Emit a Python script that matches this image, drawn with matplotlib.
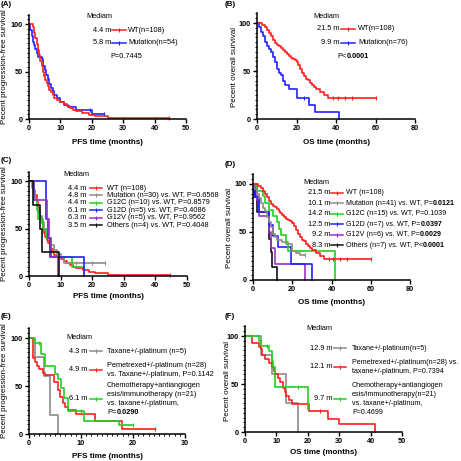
import numpy as np
import matplotlib
matplotlib.use("Agg")
import matplotlib.pyplot as plt
from matplotlib.lines import Line2D
from matplotlib.ticker import MultipleLocator

plt.rcParams["font.family"] = ["Liberation Sans", "DejaVu Sans"]

W = H = 461
RED = "#ff1f1f"
BLUE = "#2323ff"
GREEN = "#1fd11f"
GRAY = "#8c8c8c"
PURPLE = "#9b32c9"
BLACK = "#111111"

# ---------- data (months, percent surviving) ----------
# WT, progression-free survival (shared by A and C)
wt_pfs_t = [0, 1.2, 1.6, 2.0, 2.4, 2.8, 3.2, 3.6, 4.0, 4.4, 4.8, 5.2, 5.6, 6.0, 6.5,
            7.0, 7.5, 8.0, 9.0, 10.0, 11.0, 12.0, 13.0, 14.0, 15.0, 17.0, 19.0, 21.0, 25.0, 44.5]
wt_pfs_s = [100, 97, 91, 85, 79, 73, 67, 61, 56, 50, 45, 41, 38, 35, 31,
            28, 25, 22, 20, 18, 16, 14, 12, 10, 8, 6, 4, 3, 1, 1]
wt_pfs_cens = [44.5]

mut_pfs_t = [0, 0.4, 0.8, 1.2, 1.6, 2.0, 2.5, 3.0, 4.0, 4.6, 5.0, 5.5, 6.0, 6.5, 7.0,
             7.5, 8.0, 9.0, 10.0, 11.0, 12.5, 15.0, 20.0, 24.0]
mut_pfs_s = [100, 94, 87, 81, 78, 74, 70, 65, 63, 56, 52, 46, 42, 37, 33,
             29, 25, 22, 18, 15, 13, 10, 5, 5]
mut_pfs_cens = [19.5, 24.0]

# WT, overall survival (shared by B and D)
wt_os_t = [0, 2.5, 4, 5, 6, 7, 8, 9, 10, 11, 12, 13, 14, 15, 16, 17, 18, 19, 20, 21,
           22, 23, 24, 25, 26, 27, 28, 29, 30, 32, 34, 36, 60]
wt_os_s = [100, 98, 96, 93, 90, 86, 82, 79, 77, 76, 74, 72, 70, 68, 66, 64, 62, 61, 59, 56,
           52, 48, 45, 42, 41, 38, 35, 33, 31, 28, 25, 22, 22]
wt_os_cens = [38.5, 41.0, 44.5, 48.0, 60.0]

mut_os_t = [0, 1, 2, 3, 4, 5, 6, 7, 8, 9, 10, 11, 12, 13, 14, 16, 20, 26.5, 29.5, 41.5]
mut_os_s = [100, 96, 91, 86, 80, 76, 73, 70, 65, 59, 52, 48, 46, 40, 35, 31, 22, 15, 7, 0]
mut_os_cens = [24.0]

# C: PFS by subtype
c_mut_t = [0, 1, 1.5, 2, 2.5, 3, 3.5, 4, 4.8, 5.5, 6, 7, 8, 9, 10, 11, 24]
c_mut_s = [100, 93, 87, 80, 73, 70, 63, 57, 50, 43, 40, 33, 27, 23, 20, 14, 14]
c_mut_cens = [15.0, 20.0, 24.0]
c_g12c_t = [0, 1.5, 2, 2.5, 3, 4.4, 5.5, 6.5, 7, 13.5, 17.3]
c_g12c_s = [100, 90, 80, 70, 60, 50, 40, 30, 20, 10, 0]
c_g12d_t = [0, 5.4, 6.1, 6.8, 17.4]
c_g12d_s = [100, 60, 40, 20, 0]
c_g12v_t = [0, 1.5, 5.7, 6.3, 7.0, 9.2]
c_g12v_s = [100, 80, 60, 40, 20, 0]
c_oth_t = [0, 1.2, 3.5, 4.2, 9.6]
c_oth_s = [100, 75, 50, 25, 0]

# D: OS by subtype
d_mut_t = [0, 1, 2, 3, 4, 5, 6, 7, 8, 9, 10.1, 11, 12, 15, 17, 20, 22, 24, 26.5]
d_mut_s = [100, 95, 90, 85, 80, 75, 72, 66, 60, 55, 48, 45, 42, 40, 37, 30, 28, 26, 26]
d_mut_cens = [26.5]
d_g12c_t = [0, 2, 5, 6, 8, 10, 12, 13, 14.2, 17, 18, 41.8]
d_g12c_s = [100, 93, 87, 80, 73, 67, 60, 53, 47, 40, 30, 0]
d_g12d_t = [0, 0.5, 3, 8, 10, 12.5, 19.5, 30]
d_g12d_s = [100, 86, 71, 57, 46, 34, 17, 0]
d_g12v_t = [0, 2, 3, 8, 9.2, 11, 26.5]
d_g12v_s = [100, 83, 67, 50, 33, 17, 0]
d_oth_t = [0, 1, 2, 8.0, 8.3, 9.0, 9.7, 12.2]
d_oth_s = [100, 86, 71, 57, 43, 29, 14, 0]

# E: PFS by regimen
e_tax_t = [0, 1.2, 2.8, 4.1, 5.6]
e_tax_s = [100, 80, 60, 20, 0]
e_pem_t = [0, 0.8, 1.2, 1.6, 2.0, 2.6, 3.0, 4.9, 5.6, 6.0, 6.5, 7.0, 7.5, 9.0, 12.7, 17.8, 24.2]
e_pem_s = [100, 79, 75, 71, 68, 64, 61, 54, 46, 39, 32, 28, 25, 21, 14, 5, 5]
e_pem_cens = [24.2]
e_chemo_t = [0, 1.0, 2.4, 3.1, 5.0, 5.5, 6.1, 6.8, 7.5, 10.6, 17.4, 20.0]
e_chemo_s = [100, 95, 83, 71, 62, 57, 48, 38, 24, 14, 9.5, 9.5]
e_chemo_cens = [2.0, 10.0, 20.0]

# F: OS by regimen
f_tax_t = [0, 5, 8.5, 12.9, 17]
f_tax_s = [100, 80, 60, 30, 0]
f_pem_t = [0, 2.2, 4.3, 5.0, 5.5, 6.5, 7.5, 8.6, 9.2, 9.7, 10.5, 11.0, 12.1, 12.6, 13.2,
           14.0, 15.0, 20.3, 26.5, 29.8, 41.5]
f_pem_s = [100, 93, 89, 86, 80, 76, 72, 68, 64, 60, 56, 52, 46, 42, 38,
           33, 29, 22, 14, 8, 0]
f_pem_cens = [24.0]
f_chemo_t = [0, 4.5, 5.0, 7.5, 8.5, 9.0, 9.5, 9.7, 20.0]
f_chemo_s = [100, 95, 90, 84, 74, 68, 58, 47, 23.5]
f_chemo_cens = [2.0, 7.0, 17.0]

# legend texts
ab_medians_a = ["4.4 m", "5.8 m"]
ab_medians_b = ["21.5 m", "9.9 m"]
a_labels = ["WT(n=108)", "Mutation(n=54)"]
b_labels = ["WT(n=108)", "Mutation(n=76)"]
c_medians = ["4.4 m", "4.8 m", "4.4 m", "6.1 m", "6.3 m", "3.5 m"]
c_labels = ["WT (n=108)", "Mutation (n=30) vs. WT, P=0.6568", "G12C (n=10) vs. WT, P=0.8579",
            "G12D (n=5) vs. WT, P=0.4086", "G12V (n=5) vs. WT, P=0.9562",
            "Others (n=4) vs. WT, P=0.4048"]
d_medians = ["21.5 m", "10.1 m", "14.2 m", "12.5 m", "9.2 m", "8.3 m"]
d_labels = ["WT (n=108)", "Mutation (n=41) vs. WT, P=", "G12C (n=15) vs. WT, P=0.1039",
            "G12D (n=7) vs. WT, P=", "G12V (n=6) vs. WT, P=", "Others (n=7) vs. WT, P<"]
d_bold = ["", "0.0121", "", "0.0397", "0.0029", "0.0001"]
e_medians = ["4.3 m", "4.9 m", "6.1 m"]
e_labels = [["Taxane+/-platinum (n=5)"],
            ["Pemetrexed+/-platinum (n=28)", "vs. Taxane+/-platinum, P=0.1142"],
            ["Chemotherapy+antiangiogen", "esis/immunotherapy (n=21)", "vs. taxane+/-platinum,", "P="]]
f_medians = ["12.9 m", "12.1 m", "9.7 m"]
f_labels = [["Taxane+/-platinum(n=5)"],
            ["Pemetrexed+/-platinum(n=28) vs.", "taxane+/-platinum, P=0.7394"],
            ["Chemotherapy+antiangiogen", "esis/immunotherapy(n=21)", "vs. taxane+/-platinum,", "P=0.4699"]]

LEG = 5.3
fig = plt.figure(figsize=(4.61, 4.61), dpi=100)
renderer = fig.canvas.get_renderer()


def fx(x):
    return x / W


def fy(y):
    return 1 - y / H


def put(x, y, s, bold=False, size=LEG, ha="left", rot=0):
    return fig.text(fx(x), fy(y), s, fontsize=size, ha=ha, va="center", rotation=rot,
                    fontweight="bold" if bold else "normal")


def put_mixed(x, y, plain, strong, size=LEG):
    t = put(x, y, plain, size=size)
    if strong:
        bb = t.get_window_extent(renderer=renderer)
        put(bb.x1, y, strong, bold=True, size=size)


def sample(x0, x1, y, color):
    fig.add_artist(Line2D([fx(x0), fx(x1)], [fy(y), fy(y)], color=color, lw=1.1))
    fig.add_artist(Line2D([fx((x0 + x1) / 2)], [fy(y)], marker="|", ms=2.5, mew=0.8, color=color))


def panel(x0, x1, y0, ppp, xmax, xstep, xminor=None):
    top = y0 - 110 * ppp
    ax = fig.add_axes([fx(x0), fy(y0), (x1 - x0) / W, (y0 - top) / H])
    ax.set_xlim(0, xmax)
    ax.set_ylim(0, 110)
    for side in ("top", "right"):
        ax.spines[side].set_visible(False)
    for side in ("left", "bottom"):
        ax.spines[side].set_linewidth(1.1)
    ax.set_yticks([0, 50, 100])
    ax.yaxis.set_minor_locator(MultipleLocator(5))
    ax.xaxis.set_major_locator(MultipleLocator(xstep))
    if xminor:
        ax.xaxis.set_minor_locator(MultipleLocator(xminor))
    ax.tick_params(which="major", length=3, width=1.0, labelsize=5.2, pad=1.5)
    ax.tick_params(which="minor", length=1.6, width=0.7)
    for lab in ax.get_xticklabels() + ax.get_yticklabels():
        lab.set_fontweight("bold")
    return ax


def km(ax, t, s, color, cens=None):
    ax.step(t, s, where="post", color=color, lw=1.2, clip_on=False)
    if cens:
        idx = np.searchsorted(t, cens, side="right") - 1
        ax.plot(cens, np.array(s)[idx], ls="none", marker="|", ms=2.5, mew=0.8,
                color=color, clip_on=False)


# ---------- (A) ----------
ax = panel(29, 186, 119, 0.95, 50, 10)
km(ax, mut_pfs_t, mut_pfs_s, BLUE, mut_pfs_cens)
km(ax, wt_pfs_t, wt_pfs_s, RED, wt_pfs_cens)
put(86, 17, "Mediam")
for i, (m, lab, col) in enumerate(zip(ab_medians_a, a_labels, [RED, BLUE])):
    y = 30 + 13 * i
    put(111, y, m, ha="right")
    sample(112, 126, y, col)
    put(128, y, lab)
put(110, 57, "P=0.7445")

# ---------- (B) ----------
ax = panel(257, 415, 119, 0.96, 80, 20)
km(ax, mut_os_t, mut_os_s, BLUE, mut_os_cens)
km(ax, wt_os_t, wt_os_s, RED, wt_os_cens)
put(313, 16, "Mediam")
for i, (m, lab, col) in enumerate(zip(ab_medians_b, b_labels, [RED, BLUE])):
    y = 29 + 14 * i
    put(339, y, m, ha="right")
    sample(341, 355, y, col)
    put(358, y, lab)
put_mixed(337, 56, "P<", "0.0001")

# ---------- (C) ----------
ax = panel(29, 187, 276, 0.95, 50, 10)
km(ax, wt_pfs_t, wt_pfs_s, RED, wt_pfs_cens)
km(ax, c_mut_t, c_mut_s, GRAY, c_mut_cens)
km(ax, c_g12c_t, c_g12c_s, GREEN)
km(ax, c_g12d_t, c_g12d_s, BLUE)
km(ax, c_g12v_t, c_g12v_s, PURPLE)
km(ax, c_oth_t, c_oth_s, BLACK)
put(63, 174, "Mediam")
c_cols = [RED, GRAY, GREEN, BLUE, PURPLE, BLACK]
for i, (m, lab, col) in enumerate(zip(c_medians, c_labels, c_cols)):
    y = 188 + 7.4 * i
    put(86, y, m, ha="right")
    sample(90, 102, y, col)
    put(107, y, lab)

# ---------- (D) ----------
ax = panel(253, 410, 280, 0.96, 80, 20)
km(ax, d_oth_t, d_oth_s, BLACK)
km(ax, d_g12v_t, d_g12v_s, PURPLE)
km(ax, d_g12d_t, d_g12d_s, BLUE)
km(ax, d_g12c_t, d_g12c_s, GREEN)
km(ax, d_mut_t, d_mut_s, GRAY, d_mut_cens)
km(ax, wt_os_t, wt_os_s, RED, wt_os_cens)
put(303, 182, "Mediam")
for i, (m, lab, bold, col) in enumerate(zip(d_medians, d_labels, d_bold, c_cols)):
    y = 193 + 10.4 * i
    put(330, y, m, ha="right")
    sample(331, 343, y, col)
    put_mixed(346, y, lab, bold, size=5.15)

# ---------- (E) ----------
ax = panel(29, 185, 434, 0.96, 30, 10, 1)
km(ax, e_tax_t, e_tax_s, GRAY)
km(ax, e_pem_t, e_pem_s, RED, e_pem_cens)
km(ax, e_chemo_t, e_chemo_s, GREEN, e_chemo_cens)
put(66, 337, "Mediam")
e_rows = [351, 369.5, 399]
for m, lines, col, y in zip(e_medians, e_labels, [GRAY, RED, GREEN], e_rows):
    put(87, y, m, ha="right")
    sample(90, 102, y, col)
    y_first = y - 9 * (len(lines) - 1) / 2
    for j, txt in enumerate(lines):
        if txt == "P=":
            put_mixed(107, y_first + 9 * j, "P=", "0.0290")
        else:
            put(107, y_first + 9 * j, txt)

# ---------- (F) ----------
ax = panel(245, 402, 432, 0.96, 50, 10)
km(ax, f_tax_t, f_tax_s, GRAY)
km(ax, f_pem_t, f_pem_s, RED, f_pem_cens)
km(ax, f_chemo_t, f_chemo_s, GREEN, f_chemo_cens)
put(306, 329, "Mediam")
f_rows = [348, 366.5, 398.5]
for m, lines, col, y in zip(f_medians, f_labels, [GRAY, RED, GREEN], f_rows):
    put(332, y, m, ha="right")
    sample(334, 346, y, col)
    y_first = y - 9 * (len(lines) - 1) / 2
    for j, txt in enumerate(lines):
        put(352, y_first + 9 * j, txt, size=5.15)

# ---------- axis titles and panel letters ----------
pfs_lab = "Pecent progression-free survival"
os_lab = "Pecent overall survival"
put(107.5, 142, "PFS time (months)", bold=True, size=5.8, ha="center")
put(336, 142, "OS time (months)", bold=True, size=5.8, ha="center")
put(108, 297, "PFS time (months)", bold=True, size=5.8, ha="center")
put(331.5, 303, "OS time (months)", bold=True, size=5.8, ha="center")
put(107, 456, "PFS time (months)", bold=True, size=5.8, ha="center")
put(323.5, 452, "OS time (months)", bold=True, size=5.8, ha="center")
put(5, 67, pfs_lab, size=5.8, ha="center", rot=90)
put(234, 67, os_lab, size=5.8, ha="center", rot=90)
put(5, 224, pfs_lab, size=5.8, ha="center", rot=90)
put(229, 228, os_lab, size=5.8, ha="center", rot=90)
put(5, 381, pfs_lab, size=5.8, ha="center", rot=90)
put(227, 381, os_lab, size=5.8, ha="center", rot=90)
for x, y, s in [(1, 5, "(A)"), (225, 5, "(B)"), (1, 161, "(C)"),
                (225, 164, "(D)"), (1, 316, "(E)"), (225, 316, "(F)")]:
    put(x, y, s, bold=True, size=5.8)

fig.savefig("out.png", dpi=100)
